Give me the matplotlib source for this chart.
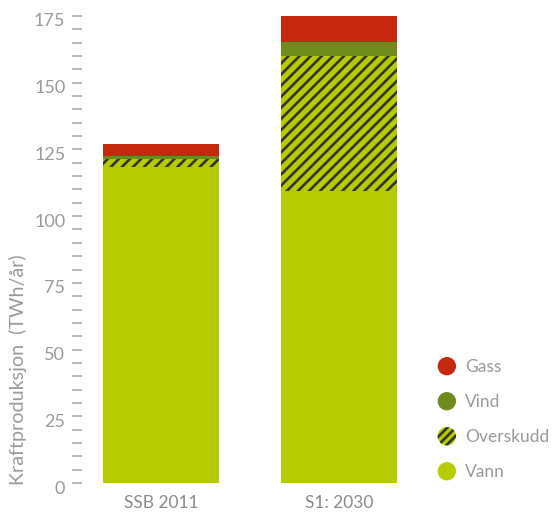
import numpy as np
import matplotlib
matplotlib.use("Agg")
import matplotlib.pyplot as plt
from matplotlib.patches import Patch, Circle
from matplotlib.legend_handler import HandlerPatch
from matplotlib.transforms import ScaledTranslation

# data (TWh/år)
scenarios = ['SSB 2011', 'S1: 2030']
vann = [118.4, 109.5]
overskudd = [3.0, 50.6]
vind = [1.0, 5.1]
gass = [4.6, 9.8]

col_vann = '#b6cc00'
col_vind = '#6e8b1d'
col_gass = '#c5280c'
grey = '#9a9a9a'

plt.rcParams['font.family'] = ['Lato', 'DejaVu Sans']
plt.rcParams['hatch.color'] = '#333333'
plt.rcParams['hatch.linewidth'] = 1.9


class CircleHandler(HandlerPatch):
    def create_artists(self, legend, orig_handle, xdescent, ydescent,
                       width, height, fontsize, trans):
        c = Circle((width / 2 - xdescent, height / 2 - ydescent),
                   radius=min(width, height) / 2)
        self.update_prop(c, orig_handle, legend)
        c.set_transform(trans)
        return [c]


fig = plt.figure(figsize=(5.54, 5.15), dpi=100)
ax = fig.add_axes([82 / 554, 32 / 515, 338 / 554, 467 / 515])

x = np.arange(len(scenarios))
w = 0.65
b1 = np.array(vann)
b2 = b1 + np.array(overskudd)
b3 = b2 + np.array(vind)
ax.bar(x, vann, w, color=col_vann, linewidth=0)
ax.bar(x, overskudd, w, bottom=b1, color=col_vann, hatch='///', linewidth=0)
ax.bar(x, vind, w, bottom=b2, color=col_vind, linewidth=0)
ax.bar(x, gass, w, bottom=b3, color=col_gass, linewidth=0)

ax.set_xlim(-0.444, 1.455)
ax.set_ylim(0, 175)
for s in ax.spines.values():
    s.set_visible(False)

ax.set_yticks(np.arange(0, 176, 25))
ax.set_yticks(np.arange(0, 176, 5), minor=True)
ax.tick_params(axis='y', which='both', length=7, width=1.2, color='#aaaaaa',
               labelcolor=grey, labelsize=13, pad=5)
ax.tick_params(axis='x', length=0, labelcolor='#8a8a8a', labelsize=12.5, pad=9)
ax.set_xticks(x)
ax.set_xticklabels(scenarios)
off = ScaledTranslation(0, -4 / 100, fig.dpi_scale_trans)
for lab in ax.get_yticklabels():
    lab.set_transform(lab.get_transform() + off)

fig.text(18 / 554, 30 / 515, 'Kraftproduksjon  (TWh/år)', rotation=90,
         ha='center', va='bottom', color=grey, fontsize=14.2)

handles = [Patch(facecolor=col_gass, linewidth=0),
           Patch(facecolor=col_vind, linewidth=0),
           Patch(facecolor=col_vann, hatch='////', linewidth=0),
           Patch(facecolor=col_vann, linewidth=0)]
labels = ['Gass', 'Vind', 'Overskudd', 'Vann']
leg = fig.legend(handles, labels, loc='upper left',
                 bbox_to_anchor=(436 / 554, 1 - 357 / 515),
                 frameon=False, fontsize=12.5, handlelength=1.25,
                 handleheight=1.25, handletextpad=0.4, labelspacing=0.96,
                 borderpad=0, borderaxespad=0,
                 handler_map={Patch: CircleHandler()})
for t in leg.get_texts():
    t.set_color(grey)

fig.savefig('out.png', dpi=100)
